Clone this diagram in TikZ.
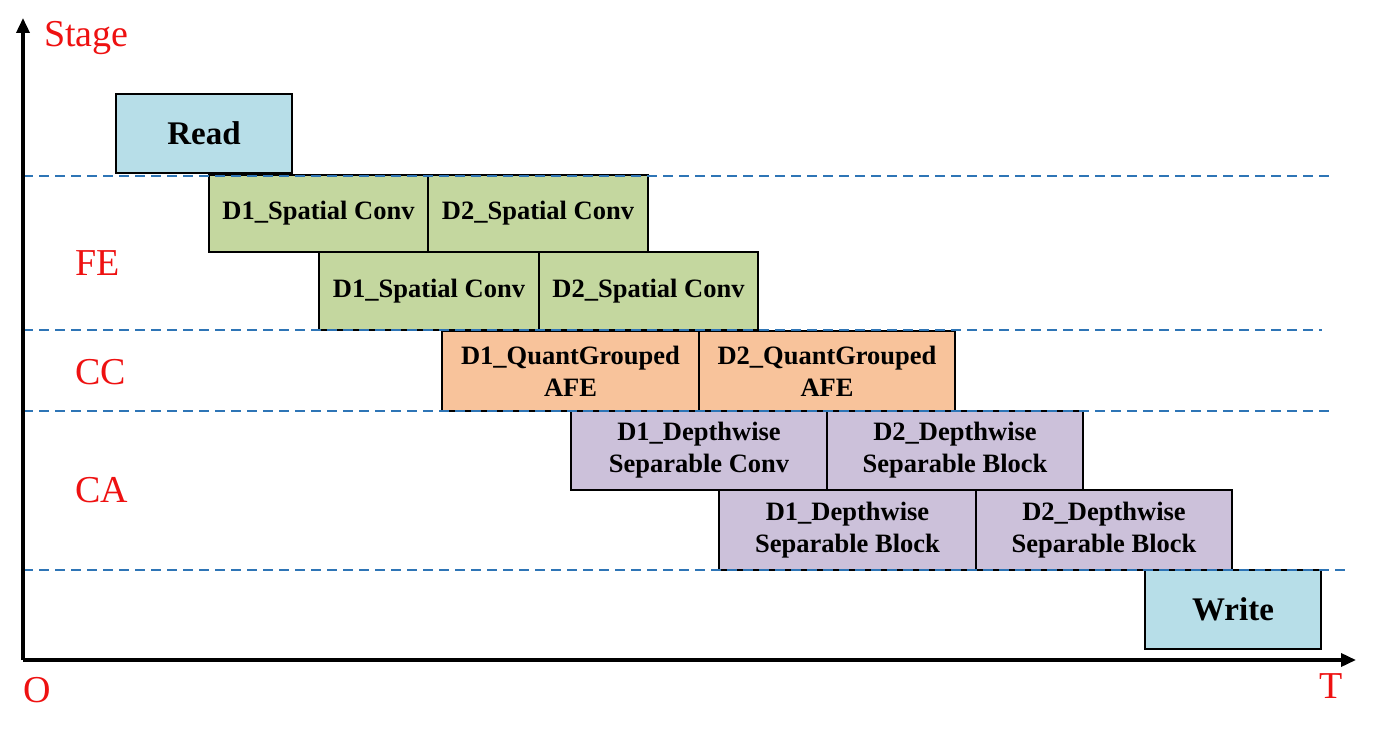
\documentclass[tikz,border=0pt]{standalone}
\usepackage{fontspec}
\setmainfont{Liberation Serif}
\usetikzlibrary{arrows.meta}
\definecolor{rdblue}{HTML}{B7DEE8}
\definecolor{feg}{HTML}{C4D79F}
\definecolor{cco}{HTML}{F8C39B}
\definecolor{cal}{HTML}{CCC1DA}
\definecolor{dashblue}{HTML}{2E75B6}
\definecolor{lblred}{HTML}{EE1111}
\tikzset{
  box/.style={draw=black, line width=2.4pt, inner sep=0pt, align=center,
    font=\fontsize{26.5}{32}\selectfont\bfseries},
  bigbox/.style={box, font=\fontsize{33}{36}\selectfont\bfseries},
  stagelbl/.style={text=lblred, font=\fontsize{38}{40}\selectfont, inner sep=0pt},
  sep/.style={draw=dashblue, line width=1.6pt, dash pattern=on 10pt off 6pt},
  axis/.style={line width=3.5pt, -{Triangle[length=15pt,width=13pt]}}
}
\begin{document}
\begin{tikzpicture}[x=1pt,y=-1pt]
\useasboundingbox (0,0) rectangle (1392,733);
% boxes
\node[bigbox, fill=rdblue, minimum width=176, minimum height=79] (rd) at (204,133.5) {Read};
\node[box, fill=feg, minimum width=219, minimum height=77] (s11) at (318.5,213.5) {D1\_Spatial Conv};
\node[box, fill=feg, minimum width=220, minimum height=77] (s12) at (538,213.5) {D2\_Spatial Conv};
\node[box, fill=feg, minimum width=220, minimum height=78] (s21) at (429,291) {D1\_Spatial Conv};
\node[box, fill=feg, minimum width=219, minimum height=78] (s22) at (648.5,291) {D2\_Spatial Conv};
\node[box, fill=cco, minimum width=257, minimum height=80] (q1) at (570.5,371) {D1\_QuantGrouped\\AFE};
\node[box, fill=cco, minimum width=256, minimum height=80] (q2) at (827,371) {D2\_QuantGrouped\\AFE};
\node[box, fill=cal, minimum width=256, minimum height=79] (d11) at (699,450.5) {D1\_Depthwise\\Separable Conv};
\node[box, fill=cal, minimum width=256, minimum height=79] (d12) at (955,450.5) {D2\_Depthwise\\Separable Block};
\node[box, fill=cal, minimum width=257, minimum height=80] (d21) at (847.5,530) {D1\_Depthwise\\Separable Block};
\node[box, fill=cal, minimum width=256, minimum height=80] (d22) at (1104,530) {D2\_Depthwise\\Separable Block};
\node[bigbox, fill=rdblue, minimum width=176, minimum height=79] (wr) at (1233,609.5) {Write};
% separators
\coordinate (l1a) at (23,176); \coordinate (l1b) at (1332,176);
\coordinate (l2a) at (23,330); \coordinate (l2b) at (1322,330);
\coordinate (l3a) at (23,411); \coordinate (l3b) at (1332,411);
\coordinate (l4a) at (23,570); \coordinate (l4b) at (1350,570);
\draw[sep] (l1a) -- (l1b);
\draw[sep] (l2a) -- (l2b);
\draw[sep] (l3a) -- (l3b);
\draw[sep] (l4a) -- (l4b);
% axes
\coordinate (O) at (23,660);
\coordinate (ytop) at (23,18);
\coordinate (xend) at (1356,660);
\draw[axis] (O) -- (ytop);
\draw[axis] (O) -- (xend);
% labels
\node[stagelbl, anchor=west] (stage) at (44,38) {Stage};
\node[stagelbl, anchor=west] (fe) at (75,263) {FE};
\node[stagelbl, anchor=west] (cc) at (75,372) {CC};
\node[stagelbl, anchor=west] (ca) at (75,490) {CA};
\node[stagelbl, anchor=west] (o) at (23,690) {O};
\node[stagelbl, anchor=west] (t) at (1319,686) {T};
\end{tikzpicture}
\end{document}
